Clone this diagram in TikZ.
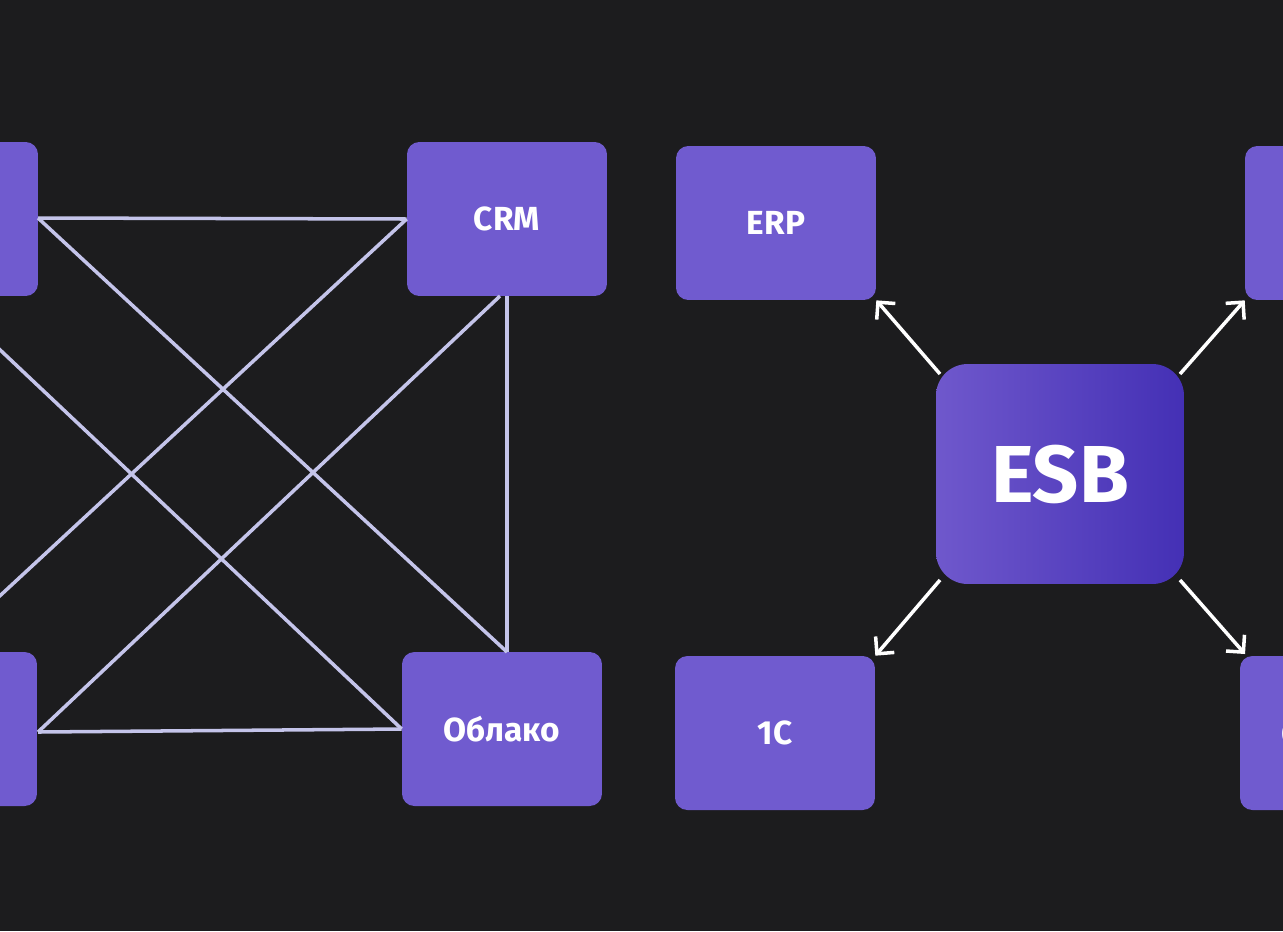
\documentclass[tikz,border=0pt]{standalone}
\usepackage{fontspec}
\setmainfont{Fira Sans}
\usetikzlibrary{arrows.meta}
\definecolor{bg}{HTML}{1C1C1E}
\definecolor{box}{HTML}{705BCF}
\definecolor{esbl}{HTML}{6F58CC}
\definecolor{esbr}{HTML}{4430B5}
\definecolor{wire}{HTML}{C4C4EA}
\tikzset{
  sys/.style={fill=box, rounded corners=7pt, minimum width=4cm, minimum height=3.08cm,
    inner sep=0pt, text=white, font=\fontsize{19}{24}\selectfont\bfseries},
  link/.style={wire, line width=2pt},
  bus/.style={link, -{Straight Barb[length=7pt,width=14pt,line width=2pt]}, white}
}
\begin{document}
\begin{tikzpicture}[x=0.02cm,y=-0.02cm]
  \useasboundingbox (0,0) rectangle (1283,931);
  \clip (0,0) rectangle (1283,931);
  \fill[bg] (0,0) rectangle (1283,931);
  % point to point
  \node[sys] (a) at (-62,219) {};
  \node[sys] (crm) at (507,219) {CRM};
  \node[sys] (b) at (-63,729) {};
  \node[sys] (cloud) at (502,729) {Облако};
  \coordinate (c) at (-200,161);
  \coordinate (d) at (-200,781);
  \draw[link] (38,218) -- (crm.west);
  \draw[link] (38,218) -- (507,652);
  \draw[link] (crm.south) -- (507,652);
  \draw[link] (c) -- (cloud.west);
  \draw[link] (crm.west) -- (d);
  \draw[link] (500,296) -- (38,732);
  \draw[link] (38,732) -- (cloud.west);
  % bus
  \node[sys] (erp) at (776,223) {ERP};
  \node[sys] (e) at (1345,223) {};
  \node[sys] (onec) at (775,733) {1C};
  \node[sys] (f) at (1340,733) {Облако};
  \coordinate (fa) at (1245,654);
  \node[rounded corners=18pt, minimum width=4.96cm, minimum height=4.4cm,
    left color=esbl, right color=esbr, text=white,
    font=\fontsize{46}{56}\selectfont\bfseries] (esb) at (1060,474) {ESB};
  \draw[bus] (940,374) -- (erp.south east);
  \draw[bus] (1180,374) -- (e.south west);
  \draw[bus] (940,580) -- (onec.north east);
  \draw[bus] (1180,580) -- (fa);
\end{tikzpicture}
\end{document}
